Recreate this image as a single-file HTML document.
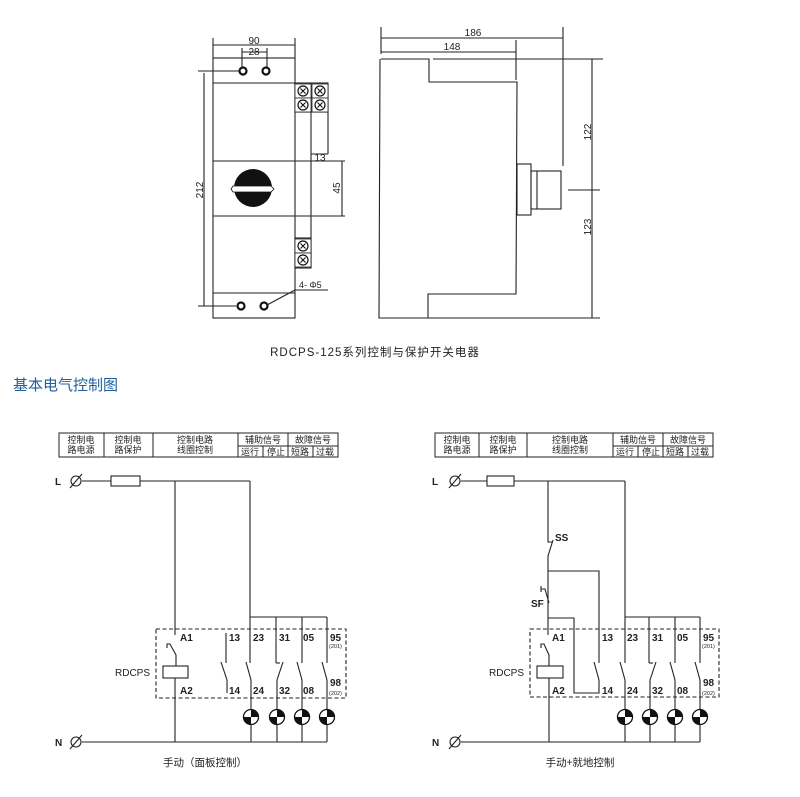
<!DOCTYPE html>
<html><head><meta charset="utf-8"><style>
html,body{margin:0;padding:0;background:#fff;}
svg{display:block;}
text{font-family:"Liberation Sans","Noto Sans CJK SC",sans-serif;fill:#222;}
.c{font-family:"Noto Sans CJK SC","WenQuanYi Zen Hei",sans-serif;}
</style></head><body>
<svg width="800" height="797" viewBox="0 0 800 797" xmlns="http://www.w3.org/2000/svg">
<defs>
<g id="lamp">
<circle r="7.5" fill="#fff" stroke="#111" stroke-width="1.3"/>
<path d="M0,0 L0,-7.5 A7.5,7.5 0 0 1 7.5,0 Z" fill="#111"/>
<path d="M0,0 L0,7.5 A7.5,7.5 0 0 1 -7.5,0 Z" fill="#111"/>
</g>
<g id="screw">
<rect x="-8" y="-7" width="16" height="14" fill="#fff" stroke="#222" stroke-width="0.8"/>
<circle r="5" fill="#fff" stroke="#111" stroke-width="1.2"/>
<path d="M-2.5,-2.5 L2.5,2.5 M-2.5,2.5 L2.5,-2.5" stroke="#111" stroke-width="1.1"/>
</g>
</defs>

<!-- FRONT VIEW -->
<g fill="none" stroke="#222" stroke-width="1.1">
<rect x="213" y="58" width="82" height="260"/>
<line x1="213" y1="83" x2="295" y2="83"/>
<line x1="213" y1="161" x2="295" y2="161"/>
<line x1="213" y1="216" x2="295" y2="216"/>
<line x1="213" y1="293" x2="295" y2="293"/>
<line x1="213" y1="45" x2="295" y2="45"/>
<line x1="213" y1="38" x2="213" y2="58"/>
<line x1="295" y1="38" x2="295" y2="58"/>
<line x1="242" y1="52" x2="267" y2="52"/>
<line x1="242" y1="48" x2="242" y2="68"/>
<line x1="267" y1="48" x2="267" y2="68"/>
<line x1="198" y1="71" x2="240" y2="71"/>
<line x1="198" y1="306" x2="236" y2="306"/>
<line x1="204" y1="73" x2="204" y2="306"/>
<!-- terminals -->
<rect x="295" y="83" width="33" height="29"/>
<line x1="311" y1="83" x2="311" y2="268"/>
<line x1="328" y1="112" x2="328" y2="154"/>
<line x1="311" y1="154" x2="328" y2="154"/>
<line x1="295" y1="161" x2="345" y2="161"/>
<line x1="295" y1="216" x2="345" y2="216"/>
<line x1="342" y1="161" x2="342" y2="216"/>
<rect x="295" y="238" width="16" height="30"/>
<line x1="295" y1="290" x2="328" y2="290"/>
<line x1="295" y1="290" x2="267" y2="305"/>
</g>
<use href="#screw" x="303" y="91"/><use href="#screw" x="320" y="91"/>
<use href="#screw" x="303" y="105"/><use href="#screw" x="320" y="105"/>
<use href="#screw" x="303" y="246"/><use href="#screw" x="303" y="260"/>
<g fill="#fff" stroke="#111" stroke-width="2.2">
<circle cx="243" cy="71" r="3.5"/><circle cx="266" cy="71" r="3.5"/>
<circle cx="241" cy="306" r="3.5"/><circle cx="264" cy="306" r="3.5"/>
</g>
<circle cx="253" cy="188" r="19" fill="#111"/>
<path d="M233,186 L271,186 L274,189 L271,192 L233,192 L231,189 Z" fill="#fff" stroke="#111" stroke-width="0.8"/>
<text x="254" y="44" font-size="10" text-anchor="middle">90</text>
<text x="254" y="55" font-size="10" text-anchor="middle">28</text>
<text x="320" y="161" font-size="10" text-anchor="middle">13</text>
<text transform="translate(203,190) rotate(-90)" font-size="10" text-anchor="middle">212</text>
<text transform="translate(340,188) rotate(-90)" font-size="10" text-anchor="middle">45</text>
<text x="299" y="288" font-size="9">4- Φ5</text>

<!-- SIDE VIEW -->
<g fill="none" stroke="#222" stroke-width="1.1">
<path d="M381,59 L429,59 L429,82 L517,82 L516,294 L428,294 L428,318 M380,59 L379,318 L600,318"/>
<rect x="517" y="164" width="14" height="51"/>
<rect x="531" y="171" width="30" height="38"/>
<line x1="537" y1="171" x2="537" y2="209"/>
<line x1="381" y1="38" x2="563" y2="38"/>
<line x1="381" y1="52" x2="516" y2="52"/>
<line x1="381" y1="27" x2="381" y2="54"/>
<line x1="516" y1="40" x2="516" y2="80"/>
<line x1="563" y1="27" x2="563" y2="166"/>
<line x1="433" y1="59" x2="603" y2="59"/>
<line x1="592" y1="59" x2="592" y2="318"/>
<line x1="568" y1="190" x2="600" y2="190"/>
</g>
<text x="473" y="36" font-size="10" text-anchor="middle">186</text>
<text x="452" y="50" font-size="10" text-anchor="middle">148</text>
<text transform="translate(591,132) rotate(-90)" font-size="10" text-anchor="middle">122</text>
<text transform="translate(591,227) rotate(-90)" font-size="10" text-anchor="middle">123</text>

<text x="375" y="356" font-size="11.5" text-anchor="middle" letter-spacing="1" class="c" style="font-family:'Liberation Sans','Noto Sans CJK SC',sans-serif">RDCPS-125系列控制与保护开关电器</text>
<text x="13" y="390" font-size="15" style="fill:#1f5d9c;font-family:'Noto Sans CJK SC',sans-serif">基本电气控制图</text>

<!-- LEFT CIRCUIT -->
<g fill="none" stroke="#222" stroke-width="1">
<rect x="59" y="433" width="279" height="24"/>
<line x1="104" y1="433" x2="104" y2="457"/>
<line x1="153" y1="433" x2="153" y2="457"/>
<line x1="238" y1="433" x2="238" y2="457"/>
<line x1="288" y1="433" x2="288" y2="457"/>
<line x1="238" y1="446" x2="338" y2="446"/>
<line x1="263" y1="446" x2="263" y2="457"/>
<line x1="313" y1="446" x2="313" y2="457"/>
</g>
<g font-size="9" class="c" text-anchor="middle">
<text x="81" y="443" class="c">控制电</text><text x="81" y="453" class="c">路电源</text>
<text x="128" y="443" class="c">控制电</text><text x="128" y="453" class="c">路保护</text>
<text x="195" y="443" class="c">控制电路</text><text x="195" y="453" class="c">线圈控制</text>
<text x="263" y="443" class="c">辅助信号</text><text x="313" y="443" class="c">故障信号</text>
<text x="250" y="455" class="c">运行</text><text x="276" y="455" class="c">停止</text>
<text x="300" y="455" class="c">短路</text><text x="325" y="455" class="c">过载</text>
</g>
<g fill="none" stroke="#222" stroke-width="1.1">
<line x1="82" y1="481" x2="250" y2="481"/>
<rect x="111" y="476" width="29" height="10" fill="#fff"/>
<line x1="175" y1="481" x2="175" y2="635"/>
<path d="M167,648 L167,644 L170,644 L176,655 L176,666"/>
<rect x="163" y="666" width="25" height="12"/>
<line x1="175" y1="678" x2="175" y2="742"/>
<line x1="250" y1="481" x2="250" y2="663"/>
<line x1="250" y1="617" x2="327" y2="617"/>
<line x1="276" y1="617" x2="276" y2="663"/>
<line x1="302" y1="617" x2="302" y2="663"/>
<line x1="327" y1="617" x2="327" y2="663"/>
<line x1="226" y1="633" x2="226" y2="663"/>
<line x1="221" y1="662" x2="227" y2="680"/>
<line x1="227" y1="680" x2="227" y2="693"/>
<line x1="246" y1="662" x2="251" y2="680"/>
<line x1="276" y1="663" x2="280" y2="663"/>
<line x1="283" y1="662" x2="277" y2="680"/>
<line x1="297" y1="662" x2="302" y2="680"/>
<line x1="322" y1="662" x2="327" y2="680"/>
<line x1="251" y1="680" x2="251" y2="742"/>
<line x1="277" y1="680" x2="277" y2="742"/>
<line x1="302" y1="680" x2="302" y2="742"/>
<line x1="327" y1="680" x2="327" y2="742"/>
<line x1="82" y1="742" x2="327" y2="742"/>
<rect x="156" y="629" width="190" height="69" stroke-dasharray="4,2.5"/>
<circle cx="76" cy="481" r="5"/><line x1="70" y1="488" x2="82" y2="474"/>
<circle cx="76" cy="742" r="5"/><line x1="70" y1="749" x2="82" y2="735"/>
</g>
<use href="#lamp" x="251" y="717"/><use href="#lamp" x="277" y="717"/>
<use href="#lamp" x="302" y="717"/><use href="#lamp" x="327" y="717"/>
<g font-size="10" font-weight="bold">
<text x="55" y="485">L</text><text x="55" y="746">N</text>
<text x="180" y="641">A1</text><text x="180" y="694">A2</text>
<text x="115" y="676" font-weight="normal">RDCPS</text>
<text x="229" y="641">13</text><text x="253" y="641">23</text><text x="279" y="641">31</text>
<text x="303" y="641">05</text><text x="330" y="641">95</text>
<text x="229" y="694">14</text><text x="253" y="694">24</text><text x="279" y="694">32</text>
<text x="303" y="694">08</text><text x="330" y="686">98</text>
</g>
<text x="329" y="648" font-size="5.5">(201)</text><text x="329" y="695" font-size="5.5">(202)</text>
<text x="205" y="766" font-size="10.5" text-anchor="middle" class="c">手动（面板控制）</text>

<!-- RIGHT CIRCUIT -->
<g fill="none" stroke="#222" stroke-width="1">
<rect x="435" y="433" width="278" height="24"/>
<line x1="479" y1="433" x2="479" y2="457"/>
<line x1="527" y1="433" x2="527" y2="457"/>
<line x1="613" y1="433" x2="613" y2="457"/>
<line x1="663" y1="433" x2="663" y2="457"/>
<line x1="613" y1="446" x2="713" y2="446"/>
<line x1="638" y1="446" x2="638" y2="457"/>
<line x1="688" y1="446" x2="688" y2="457"/>
</g>
<g font-size="9" text-anchor="middle">
<text x="457" y="443" class="c">控制电</text><text x="457" y="453" class="c">路电源</text>
<text x="503" y="443" class="c">控制电</text><text x="503" y="453" class="c">路保护</text>
<text x="570" y="443" class="c">控制电路</text><text x="570" y="453" class="c">线圈控制</text>
<text x="638" y="443" class="c">辅助信号</text><text x="688" y="443" class="c">故障信号</text>
<text x="625" y="455" class="c">运行</text><text x="651" y="455" class="c">停止</text>
<text x="675" y="455" class="c">短路</text><text x="700" y="455" class="c">过载</text>
</g>
<g fill="none" stroke="#222" stroke-width="1.1">
<line x1="461" y1="481" x2="625" y2="481"/>
<rect x="487" y="476" width="27" height="10" fill="#fff"/>
<path d="M548,481 L548,542 L552,542 M553,540 L548,556 L548,603"/>
<path d="M548,571 L599,571 L599,663"/>
<path d="M541,586 L541,592 M541,589 L545,589 L549,603"/>
<path d="M548,618 L574,618 L574,693 L599,693 L599,680"/>
<line x1="594" y1="662" x2="599" y2="680"/>
<line x1="548" y1="603" x2="548" y2="635"/>
<path d="M541,648 L541,644 L544,644 L549,655 L549,666"/>
<rect x="537" y="666" width="26" height="12"/>
<line x1="549" y1="678" x2="549" y2="742"/>
<line x1="625" y1="481" x2="625" y2="663"/>
<line x1="625" y1="617" x2="700" y2="617"/>
<line x1="649" y1="617" x2="649" y2="663"/>
<line x1="675" y1="617" x2="675" y2="663"/>
<line x1="700" y1="617" x2="700" y2="663"/>
<line x1="620" y1="662" x2="625" y2="680"/>
<line x1="649" y1="663" x2="653" y2="663"/>
<line x1="656" y1="662" x2="650" y2="680"/>
<line x1="670" y1="662" x2="675" y2="680"/>
<line x1="695" y1="662" x2="700" y2="680"/>
<line x1="625" y1="680" x2="625" y2="742"/>
<line x1="650" y1="680" x2="650" y2="742"/>
<line x1="675" y1="680" x2="675" y2="742"/>
<line x1="700" y1="680" x2="700" y2="742"/>
<line x1="461" y1="742" x2="700" y2="742"/>
<rect x="530" y="629" width="189" height="68" stroke-dasharray="4,2.5"/>
<circle cx="455" cy="481" r="5"/><line x1="449" y1="488" x2="461" y2="474"/>
<circle cx="455" cy="742" r="5"/><line x1="449" y1="749" x2="461" y2="735"/>
</g>
<use href="#lamp" x="625" y="717"/><use href="#lamp" x="650" y="717"/>
<use href="#lamp" x="675" y="717"/><use href="#lamp" x="700" y="717"/>
<g font-size="10" font-weight="bold">
<text x="432" y="485">L</text><text x="432" y="746">N</text>
<text x="555" y="541">SS</text><text x="531" y="607">SF</text>
<text x="552" y="641">A1</text><text x="552" y="694">A2</text>
<text x="489" y="676" font-weight="normal">RDCPS</text>
<text x="602" y="641">13</text><text x="627" y="641">23</text><text x="652" y="641">31</text>
<text x="677" y="641">05</text><text x="703" y="641">95</text>
<text x="602" y="694">14</text><text x="627" y="694">24</text><text x="652" y="694">32</text>
<text x="677" y="694">08</text><text x="703" y="686">98</text>
</g>
<text x="702" y="648" font-size="5.5">(201)</text><text x="702" y="695" font-size="5.5">(202)</text>
<text x="580" y="766" font-size="10.5" text-anchor="middle" class="c">手动+就地控制</text>
</svg>
</body></html>
